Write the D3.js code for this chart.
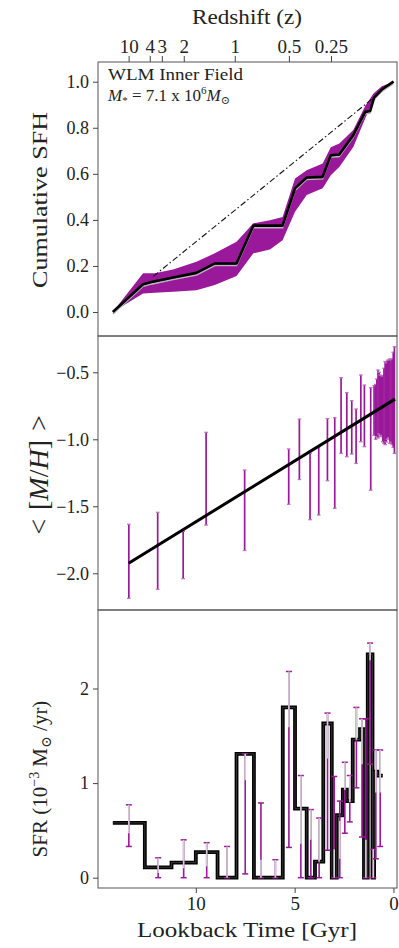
<!DOCTYPE html>
<html><head><meta charset="utf-8">
<script src="https://cdn.jsdelivr.net/npm/d3@7"></script>
<style>body{margin:0;background:#fff}svg{display:block}</style>
</head><body><svg id="c" width="399" height="948"></svg>
<script>
// ---- Cumulative star-formation history (fraction of mass formed vs lookback time, Gyr)
const cumT = [14.20, 12.67, 12.25, 11.15, 9.97, 9.04, 7.94, 7.09, 5.61, 4.98, 4.39, 3.58, 3.17, 2.74, 2.03, 1.43, 1.18, 0.98, 0.59, 0.00];
const cumV = [0.000, 0.121, 0.130, 0.150, 0.170, 0.211, 0.211, 0.375, 0.375, 0.537, 0.584, 0.587, 0.681, 0.684, 0.768, 0.869, 0.873, 0.931, 0.966, 1.000];
// uncertainty envelope
const bandT = [14.20, 12.67, 12.08, 11.15, 9.97, 9.04, 7.94, 7.09, 6.25, 5.61, 4.98, 4.39, 3.58, 3.17, 2.74, 2.03, 1.43, 1.01, 0.59, 0.00];
const bandHi = [0.000, 0.168, 0.168, 0.185, 0.218, 0.255, 0.305, 0.385, 0.399, 0.413, 0.580, 0.616, 0.645, 0.715, 0.732, 0.790, 0.895, 0.949, 0.980, 1.000];
const bandLo = [0.000, 0.081, 0.084, 0.088, 0.095, 0.117, 0.156, 0.255, 0.272, 0.312, 0.435, 0.508, 0.537, 0.594, 0.630, 0.717, 0.840, 0.920, 0.956, 1.000];
// constant-SFR reference line
const refT = [12.15, 0.00];
const refV = [0.155, 1.000];

// ---- Mean metallicity
const metT  = [13.39, 11.93, 10.64, 9.48, 7.53, 5.30, 4.76, 4.22, 3.78, 3.34, 2.97, 2.65, 2.36, 2.11, 1.89, 1.65, 1.47, 1.15, 0.98,
               0.90, 0.84, 0.78, 0.72, 0.66, 0.60, 0.54, 0.48, 0.42, 0.36, 0.30, 0.24, 0.18, 0.12, 0.06, 0.01, -0.05];
const metLo = [-2.187, -2.12, -2.04, -1.64, -1.83, -1.485, -1.30, -1.60, -1.565, -1.309, -1.515, -1.105, -1.13, -1.11, -1.18, -1.018, -1.055, -1.38, -0.97,
               -1.00, -0.98, -0.99, -0.96, -0.98, -0.97, -1.018, -1.03, -1.04, -1.02, -1.00, -0.99, -1.03, -1.02, -1.04, -1.06, -1.105];
const metHi = [-1.634, -1.545, -1.687, -0.948, -1.229, -1.072, -0.849, -1.105, -1.055, -0.846, -0.839, -0.54, -0.652, -0.712, -0.774, -0.52, -0.595, -0.615, -0.60,
               -0.59, -0.55, -0.483, -0.50, -0.52, -0.525, -0.527, -0.47, -0.42, -0.43, -0.41, -0.408, -0.40, -0.408, -0.40, -0.35, -0.309];
const fitT = [13.40, -0.08];
const fitV = [-1.925, -0.700];

// ---- Star-formation rate per age bin (1e-3 Msun/yr)
const binOld   = [14.20, 12.58, 11.23, 10.00, 8.90, 7.94, 7.06, 6.35, 5.60, 4.98, 4.39, 3.97, 3.55, 3.12, 2.87, 2.56, 2.36, 2.06, 1.69, 1.49, 1.30, 1.06, 0.98, 0.80];
const binYoung = [12.58, 11.23, 10.00, 8.90, 7.94, 7.06, 6.35, 5.60, 4.98, 4.39, 3.97, 3.55, 3.12, 2.87, 2.56, 2.36, 2.06, 1.69, 1.49, 1.30, 1.06, 0.98, 0.80, 0.54];
const sfr      = [0.58, 0.11, 0.16, 0.27, 0.00, 1.31, 0.00, 0.00, 1.80, 0.73, 0.00, 0.17, 1.63, 0.00, 0.66, 0.93, 0.81, 1.46, 1.57, 0.00, 2.36, 0.00, 1.12, 1.08];
const sfrLo    = [0.33, 0.00, 0.00, 0.00, 0.00, 0.04, 0.00, 0.00, 0.32, 0.00, 0.00, 0.00, 0.29, 0.00, 0.00, 0.47, 0.59, 0.95, 0.43, 0.00, 1.20, 0.00, 0.20, 0.33];
const sfrHi    = [0.77, 0.21, 0.40, 0.37, 0.33, 1.31, 0.79, 0.19, 2.18, 1.08, 0.72, 0.63, 1.74, 1.07, 0.81, 1.22, 1.08, 1.80, 1.68, 1.68, 2.48, 0.30, 1.35, 1.35];
const sysLo    = [0.47, 0.05, 0.10, 0.12, 0.00, 1.03, 0.00, 0.00, 1.59, 0.36, 0.40, 0.17, 1.26, 0.00, 0.20, 0.93, 0.80, 1.46, 1.20, 0.00, 2.30, 0.00, 0.90, 0.90];
const sysHi    = [0.77, 0.21, 0.40, 0.37, 0.33, 1.31, 0.19, 0.19, 2.18, 1.08, 0.72, 0.63, 1.74, 0.30, 0.60, 1.22, 1.08, 1.80, 1.68, 0.40, 2.48, 0.30, 1.35, 1.35];

// ---- Axis ticks
const zLabels = ["10", "4", "3", "2", "1", "0.5", "0.25"];
const zLookback = [13.40, 12.33, 11.72, 10.61, 8.03, 5.29, 3.16];
const timeTicks = [10, 5, 0];
const cumTicks = [0.0, 0.2, 0.4, 0.6, 0.8, 1.0];
const metTicks = [-2.0, -1.5, -1.0, -0.5];
const sfrTicks = [0, 1, 2];

const FONT = "'Liberation Serif', 'DejaVu Serif', serif";
const MAG = "#9a189a";
const INK = "#222";
const L = 98, R = 397;
const P1 = [62, 336], P2 = [336, 610], P3 = [610, 888];

const svg = d3.select("#c");
const x = d3.scaleLinear().domain([14.95, -0.18]).range([L, R]);
const y1 = d3.scaleLinear().domain([-0.104, 1.0855]).range([P1[1], P1[0]]);
const y2 = d3.scaleLinear().domain([-2.274, -0.229]).range([P2[1], P2[0]]);
const y3 = d3.scaleLinear().domain([-0.109, 2.83]).range([P3[1], P3[0]]);

function clip(id, P) {
  svg.append("clipPath").attr("id", id).append("rect")
    .attr("x", L).attr("y", P[0]).attr("width", R - L).attr("height", P[1] - P[0]);
}
clip("c1", P1); clip("c2", P2); clip("c3", P3);

// ---------- Panel 1: cumulative SFH
const g1 = svg.append("g").attr("clip-path", "url(#c1)");
g1.append("path")
  .datum(bandT.map((t, i) => [t, bandLo[i], bandHi[i]]))
  .attr("fill", MAG)
  .attr("d", d3.area().x(d => x(d[0])).y0(d => y1(d[1])).y1(d => y1(d[2])));
g1.append("path")
  .datum(refT.map((t, i) => [t, refV[i]]))
  .attr("fill", "none").attr("stroke", "#111").attr("stroke-width", 1.1)
  .attr("stroke-dasharray", "6,2.5,1.5,2.5")
  .attr("d", d3.line().x(d => x(d[0])).y(d => y1(d[1])));
const cumLine = d3.line().x(d => x(d[0])).y(d => y1(d[1]));
const cumData = cumT.map((t, i) => [t, cumV[i]]);
g1.append("path").datum(cumData)
  .attr("fill", "none").attr("stroke", "#b8b8b8").attr("stroke-width", 1.6)
  .attr("transform", "translate(0,2)")
  .attr("d", cumLine);
g1.append("path").datum(cumData)
  .attr("fill", "none").attr("stroke", "#000").attr("stroke-width", 2.6)
  .attr("stroke-linejoin", "round")
  .attr("d", cumLine);

// ---------- Panel 2: metallicity
const g2 = svg.append("g").attr("clip-path", "url(#c2)");
metT.forEach((t, i) => {
  const xx = x(t);
  g2.append("line").attr("x1", xx).attr("x2", xx)
    .attr("y1", y2(metLo[i])).attr("y2", y2(metHi[i]))
    .attr("stroke", MAG).attr("stroke-width", 1.7);
  [metLo[i], metHi[i]].forEach(v => {
    g2.append("line").attr("x1", xx - 1.8).attr("x2", xx + 1.8)
      .attr("y1", y2(v)).attr("y2", y2(v))
      .attr("stroke", "#c46fc4").attr("stroke-width", 1.3);
  });
});
g2.append("path")
  .datum(fitT.map((t, i) => [t, fitV[i]]))
  .attr("fill", "none").attr("stroke", "#000").attr("stroke-width", 3)
  .attr("d", d3.line().x(d => x(d[0])).y(d => y2(d[1])));

// ---------- Panel 3: SFR
const g3 = svg.append("g").attr("clip-path", "url(#c3)");
const stepPts = [];
sfr.forEach((v, i) => { stepPts.push([binOld[i], v]); stepPts.push([binYoung[i], v]); });
const stepLine = d3.line().x(d => x(d[0])).y(d => y3(d[1]));
g3.append("path").datum(stepPts)
  .attr("fill", "none").attr("stroke", "#000").attr("stroke-width", 3.8)
  .attr("stroke-linejoin", "miter").attr("d", stepLine);
g3.append("path").datum(stepPts)
  .attr("fill", "none").attr("stroke", "#555").attr("stroke-width", 0.6)
  .attr("d", stepLine);
sfr.forEach((v, i) => {
  const xx = x((binOld[i] + binYoung[i]) / 2);
  g3.append("line").attr("x1", xx).attr("x2", xx)
    .attr("y1", y3(sfrLo[i])).attr("y2", y3(sfrHi[i]))
    .attr("stroke", MAG).attr("stroke-width", 1.6);
  [sfrLo[i], sfrHi[i]].forEach(e => {
    g3.append("line").attr("x1", xx - 3).attr("x2", xx + 3)
      .attr("y1", y3(e)).attr("y2", y3(e))
      .attr("stroke", MAG).attr("stroke-width", 1.5);
  });
  g3.append("line").attr("x1", xx).attr("x2", xx)
    .attr("y1", y3(sysLo[i])).attr("y2", y3(sysHi[i]))
    .attr("stroke", "#cfcfcf").attr("stroke-width", 1.6);
});

// ---------- Frames and axes
[P1, P2, P3].forEach(P => {
  svg.append("rect").attr("x", L).attr("y", P[0]).attr("width", R - L).attr("height", P[1] - P[0])
    .attr("fill", "none").attr("stroke", "#555").attr("stroke-width", 1);
});

function leftAxis(scale, ticks, fmt) {
  const g = svg.append("g").attr("transform", `translate(${L},0)`)
    .call(d3.axisLeft(scale).tickValues(ticks).tickFormat(fmt).tickSize(5).tickPadding(4));
  g.attr("font-family", FONT);
  g.select(".domain").remove();
  g.selectAll("line").attr("stroke", "#444");
  g.selectAll("text").attr("font-family", FONT).attr("font-size", 18).attr("fill", INK);
  return g;
}
leftAxis(y1, cumTicks, d3.format(".1f"));
leftAxis(y2, metTicks, d => d3.format(".1f")(d).replace("-", "\u2212"));
leftAxis(y3, sfrTicks, d3.format("d"));

const gb = svg.append("g").attr("transform", `translate(0,${P3[1]})`)
  .call(d3.axisBottom(x).tickValues(timeTicks).tickFormat(d3.format("d")).tickSize(5).tickPadding(4));
gb.attr("font-family", FONT);
gb.select(".domain").remove();
gb.selectAll("line").attr("stroke", "#444");
gb.selectAll("text").attr("font-family", FONT).attr("font-size", 19).attr("fill", INK);

const gt = svg.append("g").attr("transform", `translate(0,${P1[0]})`)
  .call(d3.axisTop(x).tickValues(zLookback).tickFormat((d, i) => zLabels[i]).tickSize(6).tickPadding(3));
gt.attr("font-family", FONT);
gt.select(".domain").remove();
gt.selectAll("line").attr("stroke", "#444");
gt.selectAll("text").attr("font-family", FONT).attr("font-size", 19).attr("fill", INK);

// ---------- Titles
const txt = (xx, yy, s, size) => svg.append("text").attr("x", xx).attr("y", yy)
  .attr("font-family", FONT).attr("font-size", size).attr("fill", INK).text(s);

txt(247, 24, "Redshift (z)", 20).attr("text-anchor", "middle").attr("textLength", 110).attr("lengthAdjust", "spacingAndGlyphs");
txt(247, 937, "Lookback Time [Gyr]", 21).attr("text-anchor", "middle").attr("textLength", 220).attr("lengthAdjust", "spacingAndGlyphs");

// vertical axis titles
txt(0, 0, "Cumulative SFH", 21).attr("text-anchor", "middle")
  .attr("transform", "translate(47,200) rotate(-90)")
  .attr("textLength", 176).attr("lengthAdjust", "spacingAndGlyphs");

const mh = svg.append("text").attr("text-anchor", "middle").attr("font-family", FONT)
  .attr("font-size", 28).attr("fill", INK).attr("transform", "translate(48,475) rotate(-90)");
mh.append("tspan").text("<");
mh.append("tspan").attr("dx", 9).text("[");
mh.append("tspan").attr("font-style", "italic").text("M");
mh.append("tspan").text("/");
mh.append("tspan").attr("font-style", "italic").text("H");
mh.append("tspan").text("]");
mh.append("tspan").attr("dx", 9).text(">");

const sl = svg.append("text").attr("text-anchor", "middle").attr("font-family", FONT)
  .attr("font-size", 21).attr("fill", INK).attr("transform", "translate(47,779) rotate(-90)");
sl.append("tspan").text("SFR (10");
sl.append("tspan").attr("font-size", 14).attr("dy", -8).text("\u22123");
sl.append("tspan").attr("dy", 8).text(" M");
sl.append("tspan").attr("font-size", 14).attr("dy", 4).text("\u2299");
sl.append("tspan").attr("dy", -4).text(" /yr)");

// annotation
txt(108, 80, "WLM Inner Field", 17).attr("textLength", 135).attr("lengthAdjust", "spacingAndGlyphs");
const ann = svg.append("text").attr("x", 108).attr("y", 101).attr("font-family", FONT)
  .attr("font-size", 17).attr("fill", INK);
ann.append("tspan").attr("font-style", "italic").text("M");
ann.append("tspan").attr("font-size", 11).attr("dy", 3).text("*");
ann.append("tspan").attr("dy", -3).text(" = 7.1 x 10");
ann.append("tspan").attr("font-size", 11).attr("dy", -7).text("6");
ann.append("tspan").attr("dy", 7).attr("font-style", "italic").text("M");
ann.append("tspan").attr("font-size", 11).attr("dy", 3).text("\u2299");
</script></body></html>
